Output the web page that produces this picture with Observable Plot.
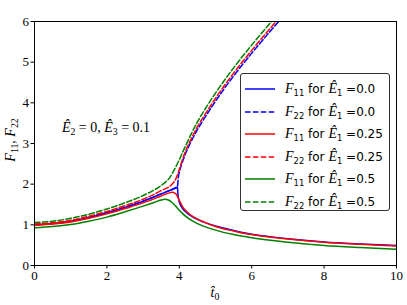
<!DOCTYPE html>
<html>
<head>
<meta charset="utf-8">
<script src="https://cdn.jsdelivr.net/npm/d3@7"></script>
<script src="https://cdn.jsdelivr.net/npm/@observablehq/plot@0.6"></script>
<style>
  body { margin: 0; background: #fff; }
  #wrap { position: relative; width: 407px; height: 305px; }
  .math { font-family: "Liberation Serif", "DejaVu Serif", serif; }
  .lbl { position: absolute; white-space: nowrap; color: #000; }
  sub { font-size: 70%; vertical-align: -0.3em; line-height: 0; }
  #legend { position: absolute; left: 240px; top: 73px; width: 150px; height: 138px;
    border: 1px solid #333; border-radius: 3px; background: #fff; box-sizing: border-box; }
  .row { position: absolute; left: 0; height: 20px; display: flex; align-items: center; }
  .row svg { margin-left: 4px; margin-right: 10px; }
  .row span.t { font-family: "DejaVu Sans", sans-serif; font-size: 12px; }
  .row i { font-family: "Liberation Serif", serif; font-size: 14px; }
</style>
</head>
<body>
<div id="wrap"></div>
<script>
// ---- data: E1 = 0.0 ----
const tB11 = [0,0.5,1,1.5,2,2.5,3,3.5,3.8,3.95,3.96,3.98,4.0,4.05,4.1,4.2,4.4,4.7,5,5.5,6,6.5,7,8,9,10];
const fB11 = [1.00,1.03,1.09,1.18,1.30,1.43,1.58,1.76,1.87,1.93,1.78,1.64,1.56,1.46,1.39,1.30,1.18,1.06,0.97,0.86,0.77,0.71,0.66,0.58,0.53,0.49];
const tB22 = [0,0.5,1,1.5,2,2.5,3,3.5,3.8,3.95,3.97,4.0,4.05,4.1,4.2,4.3,4.5,4.75,5,5.5,6,6.5,7];
const fB22 = [1.00,1.03,1.09,1.18,1.30,1.43,1.58,1.76,1.87,1.93,2.15,2.29,2.45,2.58,2.81,3.00,3.34,3.70,4.04,4.66,5.22,5.75,6.26];
// ---- data: E1 = 0.25 ----
const tR11 = [0,0.5,1,1.5,2,2.5,3,3.5,3.7,3.8,3.88,3.95,4.0,4.1,4.2,4.4,4.7,5,5.5,6,6.5,7,8,9,10];
const fR11 = [0.99,1.02,1.07,1.16,1.27,1.40,1.54,1.71,1.78,1.80,1.78,1.70,1.60,1.43,1.33,1.19,1.06,0.96,0.85,0.76,0.70,0.65,0.57,0.52,0.48];
const tR22 = [0,0.5,1,1.5,2,2.5,3,3.5,3.8,3.9,4.0,4.1,4.2,4.3,4.5,4.75,5,5.5,6,6.5,7];
const fR22 = [1.02,1.05,1.11,1.21,1.33,1.47,1.63,1.84,2.00,2.12,2.36,2.64,2.87,3.06,3.41,3.77,4.11,4.73,5.29,5.82,6.33];
// ---- data: E1 = 0.5 ----
const tG11 = [0,0.5,1,1.5,2,2.5,3,3.3,3.5,3.6,3.7,3.8,3.9,4.0,4.1,4.25,4.5,5,5.5,6,7,8,9,10];
const fG11 = [0.93,0.96,1.01,1.09,1.19,1.32,1.46,1.55,1.61,1.63,1.61,1.55,1.46,1.36,1.27,1.16,1.03,0.87,0.76,0.68,0.57,0.49,0.44,0.40];
const tG22 = [0,0.5,1,1.5,2,2.5,3,3.25,3.5,3.75,3.9,4.0,4.1,4.2,4.3,4.5,4.75,5,5.5,6,6.5,7];
const fG22 = [1.06,1.09,1.16,1.26,1.39,1.54,1.72,1.83,1.97,2.18,2.42,2.60,2.80,2.99,3.18,3.53,3.90,4.24,4.86,5.42,5.95,6.46];

const xTicks = [0,2,4,6,8,10];
const yTicks = [0,1,2,3,4,5,6];
const e1Labels = ["0.0","0.0","0.25","0.25","0.5","0.5"];

const series = [
  {t: tB11, f: fB11, color: "#0000ff", dash: null},
  {t: tB22, f: fB22, color: "#0000ff", dash: "5.5,2.4"},
  {t: tR11, f: fR11, color: "#ff0000", dash: null},
  {t: tR22, f: fR22, color: "#ff0000", dash: "5.5,2.4"},
  {t: tG11, f: fG11, color: "#008000", dash: null},
  {t: tG22, f: fG22, color: "#008000", dash: "5.5,2.4"}
];

const marks = series.map(s => Plot.line(s.t.map((t, i) => ({t, f: s.f[i]})), {
  x: "t", y: "f", stroke: s.color, strokeWidth: 1.5, strokeDasharray: s.dash,
  curve: "monotone-x", clip: true
}));

const chart = Plot.plot({
  width: 407, height: 305,
  marginLeft: 34, marginRight: 11, marginTop: 21, marginBottom: 40,
  style: { fontFamily: "Liberation Serif, DejaVu Serif, serif", fontSize: "13px", background: "#fff", color: "#000" },
  x: { domain: [0, 10], ticks: xTicks, tickFormat: d3.format("d"), label: null, tickSize: 3.5, tickPadding: 2 },
  y: { domain: [0, 6], ticks: yTicks, tickFormat: d3.format("d"), label: null, tickSize: 3.5, tickPadding: 2 },
  marks: [
    ...marks,
    Plot.frame({ stroke: "#000", strokeWidth: 1 })
  ]
});
const wrap = document.getElementById("wrap");
wrap.appendChild(chart);

// labels
const yl = document.createElement("div");
yl.className = "lbl math";
yl.style.cssText = "left:11px;top:140px;transform:translate(-50%,-50%) rotate(-90deg);font-size:14px;";
yl.innerHTML = "<i>F</i><sub>11</sub>, <i>F</i><sub>22</sub>";
wrap.appendChild(yl);

const xl = document.createElement("div");
xl.className = "lbl math";
xl.style.cssText = "left:215px;top:293px;transform:translate(-50%,-50%);font-size:14px;";
xl.innerHTML = "<i>t̂</i><sub>0</sub>";
wrap.appendChild(xl);

const ann = document.createElement("div");
ann.className = "lbl math";
ann.style.cssText = "left:106px;top:128px;transform:translate(-50%,-50%);font-size:14px;";
ann.innerHTML = "<i>Ê</i><sub>2</sub> = 0, <i>Ê</i><sub>3</sub> = 0.1";
wrap.appendChild(ann);

// legend
const lg = document.createElement("div");
lg.id = "legend";
series.forEach((s, i) => {
  const row = document.createElement("div");
  row.className = "row";
  row.style.top = (5 + i * 22.5) + "px";
  const sub = i % 2 === 0 ? "11" : "22";
  row.innerHTML = `<svg width="30" height="4"><line x1="0" x2="30" y1="2" y2="2" stroke="${s.color}" stroke-width="1.5" ${s.dash ? `stroke-dasharray="${s.dash}"` : ""}/></svg>` +
    `<span class="t"><i>F</i><sub>${sub}</sub> for <i>Ê</i><sub>1</sub> =${e1Labels[i]}</span>`;
  lg.appendChild(row);
});
wrap.appendChild(lg);
</script>
</body>
</html>
